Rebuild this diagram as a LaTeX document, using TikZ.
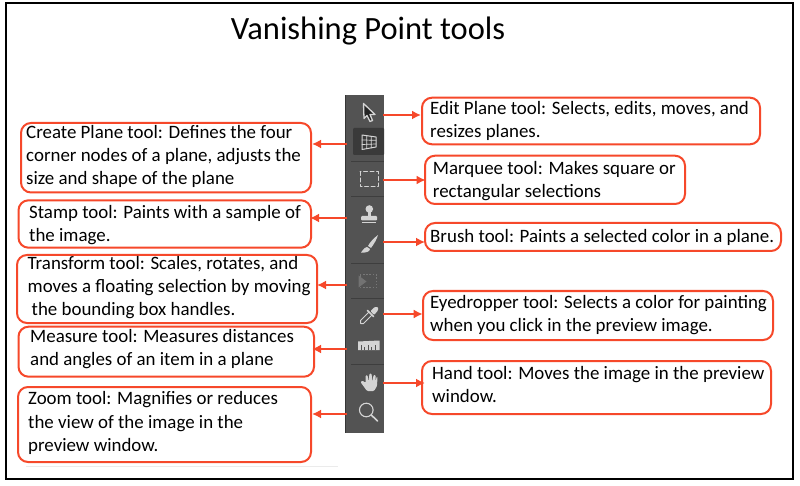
\documentclass[tikz,border=0pt]{standalone}
\usepackage{fontspec}
\usetikzlibrary{arrows.meta}
\setmainfont{Carlito}
\begin{document}
\begin{tikzpicture}[x=1bp,y=-1bp,
 callout/.style={draw=calloutred,line width=2bp,rounded corners=10bp,fill=white,inner sep=0pt,anchor=north west},
 lbl/.style={anchor=north west,inner sep=0pt,align=left,font=\fontsize{18.9bp}{23.3bp}\selectfont,text=black},
 conn/.style={draw=calloutred,line width=2bp,-{Latex[length=9bp,width=9bp]}},
 icon/.style={draw=iconc,line width=1bp,line cap=round,line join=round},
 sep/.style={draw=sepc,line width=0.8bp}]
\definecolor{calloutred}{HTML}{F6482A}
\definecolor{iconc}{HTML}{D4D4D4}
\definecolor{sepc}{HTML}{3E3E3E}
\definecolor{barc}{HTML}{535353}
\useasboundingbox (0,0) rectangle (800,486);
\fill[white] (0,0) rectangle (800,486);
\draw[black,line width=2bp] (5.5,3) rectangle (792.5,479);
\draw[black!8,line width=0.6bp] (26,466) -- (338,466);
\node[anchor=center,inner sep=0pt,font=\fontsize{32.5bp}{36bp}\selectfont] (title) at (368,31.5) {Vanishing Point tools};
% toolbar
\node[draw=none,fill=barc,minimum width=39bp,minimum height=338bp,inner sep=0pt,anchor=north west] (bar) at (345,95) {};
\fill[black!35!barc] (345,95) rectangle (346.2,433);
\fill[black!30!barc,rounded corners=1bp] (353,128) rectangle (384,155);
\foreach \y in {161,196,263,298,364} \draw[sep] (351,\y) -- (384,\y);
% arrow icon
\draw[icon,fill=black!55!barc,line width=1.3bp] (363.5,103.5) -- (364,118.5) -- (367,115.5) -- (370,121.5) -- (372.5,120.5) -- (370,114.5) -- (375,114.5) -- cycle;
% grid icon
\draw[icon] (362,135) -- (376,137) -- (376,147) -- (362,149.5) -- cycle;
\draw[icon,line width=.7bp] (362,140) -- (376,140.3) (362,144.5) -- (376,144) (366.7,135.7) -- (366.7,148.7) (371.3,136.3) -- (371.3,147.9);
% marquee
\draw[icon,dash pattern=on 4bp off 2.5bp] (360,171.5) rectangle (378,186.5);
% stamp
\fill[iconc] (369.3,209) circle (3.8bp);
\fill[iconc] (367.8,211) rectangle (370.8,217);
\fill[iconc,rounded corners=1bp] (361,216) rectangle (377,220.5);
\fill[iconc] (362,221.7) rectangle (376,223.4);
% brush
\fill[iconc] (378,235) .. controls (374,238) and (370,242) .. (368,246) -- (371,248) .. controls (374,244) and (377,239) .. (378,235) -- cycle;
\fill[iconc] (367,247) .. controls (363,248) and (363,251) .. (361,252.5) .. controls (365,253) and (370,252) .. (370,249) -- cycle;
% transform
\draw[draw=gray!80!barc,line width=1bp,dash pattern=on 1.6bp off 1.6bp] (360,275) rectangle (376.5,288);
\fill[gray!70!barc] (358.5,275.5) -- (366.5,281.5) -- (358.5,287.5) -- cycle;
% eyedropper
\draw[icon] (369,312) -- (360.5,320.5) -- (360.5,323.5) -- (363.5,323.5) -- (372,315);
\draw[icon,line width=1.7bp] (367.5,310.5) -- (373.5,316.5);
\fill[iconc,rounded corners=1bp] (370.5,311) -- (374.5,307) -- (378,307) -- (378,310.5) -- (374,315) -- cycle;
% ruler
\fill[iconc] (358,341.5) -- (379.5,340.5) -- (379.5,350) -- (358,350) -- cycle;
\foreach \x/\t in {361/345,364.5/347,368/345,371.5/347,375/345}
  \draw[barc,line width=.8bp] (\x,350) -- (\x,\t);
% hand
\fill[iconc,rounded corners=1bp] (360.5,382) -- (362.5,380.5) -- (365.5,383) -- (365.5,375.5) -- (367.5,375) -- (368.5,382) -- (369.5,373.5) -- (371.5,373.5) -- (372.5,382) -- (373.5,375) -- (375.5,375) -- (375.5,383) -- (376.5,377) -- (377.5,377) -- (377,386) -- (374,391) -- (367,391) -- cycle;
% zoom
\draw[draw=iconc,line width=1.1bp] (366.3,410) circle (6.8bp);
\draw[draw=iconc,line width=1.6bp,line cap=round] (371.3,415) -- (377.5,421);
% right callouts
\node[callout,minimum width=338bp,minimum height=46.6bp] (edit) at (421,96.7) {};
\node[lbl] (editt) at (430,101.3) {Edit Plane tool: Selects, edits, moves, and\\resizes planes.};
\node[callout,minimum width=260bp,minimum height=48.3bp] (marq) at (424,154.7) {};
\node[lbl] (marqt) at (432.7,160.7) {Marquee tool: Makes square or\\rectangular selections};
\node[callout,minimum width=356bp,minimum height=28bp] (brush) at (424,222) {};
\node[lbl] (brusht) at (430,228.7) {Brush tool: Paints a selected color in a plane.};
\node[callout,minimum width=350bp,minimum height=49bp] (eye) at (422,290) {};
\node[lbl] (eyet) at (430,294.7) {Eyedropper tool: Selects a color for painting\\when you click in the preview image.};
\node[callout,minimum width=349bp,minimum height=53bp] (hand) at (421,360) {};
\node[lbl] (handt) at (432,366.3) {Hand tool: Moves the image in the preview\\window.};
% left callouts
\node[callout,minimum width=290bp,minimum height=69.5bp] (create) at (20,122) {};
\node[lbl] (createt) at (26,125) {Create Plane tool: Defines the four\\corner nodes of a plane, adjusts the\\size and shape of the plane};
\node[callout,minimum width=292.5bp,minimum height=47.4bp] (stamp) at (17.5,199.3) {};
\node[lbl] (stampt) at (29,204.7) {Stamp tool: Paints with a sample of\\the image.};
\node[callout,minimum width=300bp,minimum height=68bp] (trans) at (16,254) {};
\node[lbl] (transt) at (27.5,256) {Transform tool: Scales, rotates, and\\moves a floating selection by moving\\\hspace*{4bp}the bounding box handles.};
\node[callout,minimum width=295.5bp,minimum height=50bp] (meas) at (17.5,325.7) {};
\node[lbl] (meast) at (30,328.7) {Measure tool: Measures distances\\and angles of an item in a plane};
\node[callout,minimum width=293bp,minimum height=75bp] (zoom) at (17,386) {};
\node[lbl] (zoomt) at (28,391.4) {Zoom tool: Magnifies or reduces\\the view of the image in the\\preview window.};
% connector start points
\coordinate (s1) at (383,115);
\coordinate (s2) at (347,144);
\coordinate (s3) at (383,180);
\coordinate (s4) at (347,218);
\coordinate (s5) at (383,242);
\coordinate (s6) at (347,285);
\coordinate (s7) at (383,314);
\coordinate (s8) at (347,349);
\coordinate (s9) at (383,383);
\coordinate (s10) at (347,414);
\draw[conn] (s1) -- (edit.west |- s1);
\draw[conn] (s2) -- (create.east |- s2);
\draw[conn] (s3) -- ([xshift=1.6bp]marq.west |- s3);
\draw[conn] (s4) -- ([xshift=-2bp]stamp.east |- s4);
\draw[conn] (s5) -- ([xshift=1bp]brush.west |- s5);
\draw[conn] (s6) -- ([xshift=-1bp]trans.east |- s6);
\draw[conn] (s7) -- ([xshift=.7bp]eye.west |- s7);
\draw[conn] (s8) -- ([xshift=-3bp]meas.east |- s8);
\draw[conn] (s9) -- ([xshift=4bp]hand.west |- s9);
\draw[conn] (s10) -- (zoom.east |- s10);
\end{tikzpicture}
\end{document}
